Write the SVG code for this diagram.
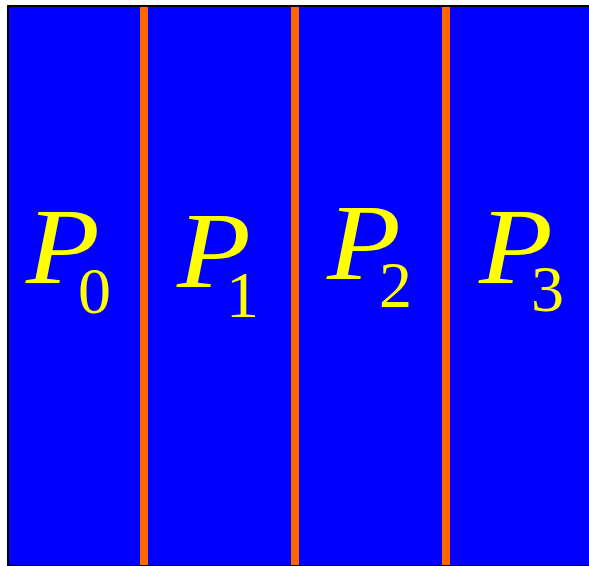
<svg xmlns="http://www.w3.org/2000/svg" width="589" height="566" viewBox="0 0 589 566">
<style>
.lab{font-family:'Liberation Serif','Times New Roman',serif;fill:#ffff00}
.P{font-size:108px;font-style:italic}
.s{font-size:66px}
.div{fill:#ff6600}
</style>
<rect x="0" y="0" width="589" height="566" fill="#ffffff"/>
<rect x="7" y="5" width="582" height="561" fill="#000000"/>
<rect x="9" y="7" width="580" height="558" fill="#0000ff"/>
<g id="dividers">
<rect class="div" x="140" y="7" width="8" height="558"/>
<rect class="div" x="291" y="7" width="8" height="558"/>
<rect class="div" x="442" y="7" width="8" height="558"/>
</g>
<g id="P0"><text class="lab P" transform="translate(26,283) scale(1.12,1)">P</text><text class="lab s" x="78" y="313">0</text></g>
<g id="P1"><text class="lab P" transform="translate(177,287) scale(1.12,1)">P</text><text class="lab s" x="226" y="317">1</text></g>
<g id="P2"><text class="lab P" transform="translate(327,279) scale(1.12,1)">P</text><text class="lab s" x="379" y="307">2</text></g>
<g id="P3"><text class="lab P" transform="translate(479,283) scale(1.12,1)">P</text><text class="lab s" x="531" y="311">3</text></g>
</svg>
